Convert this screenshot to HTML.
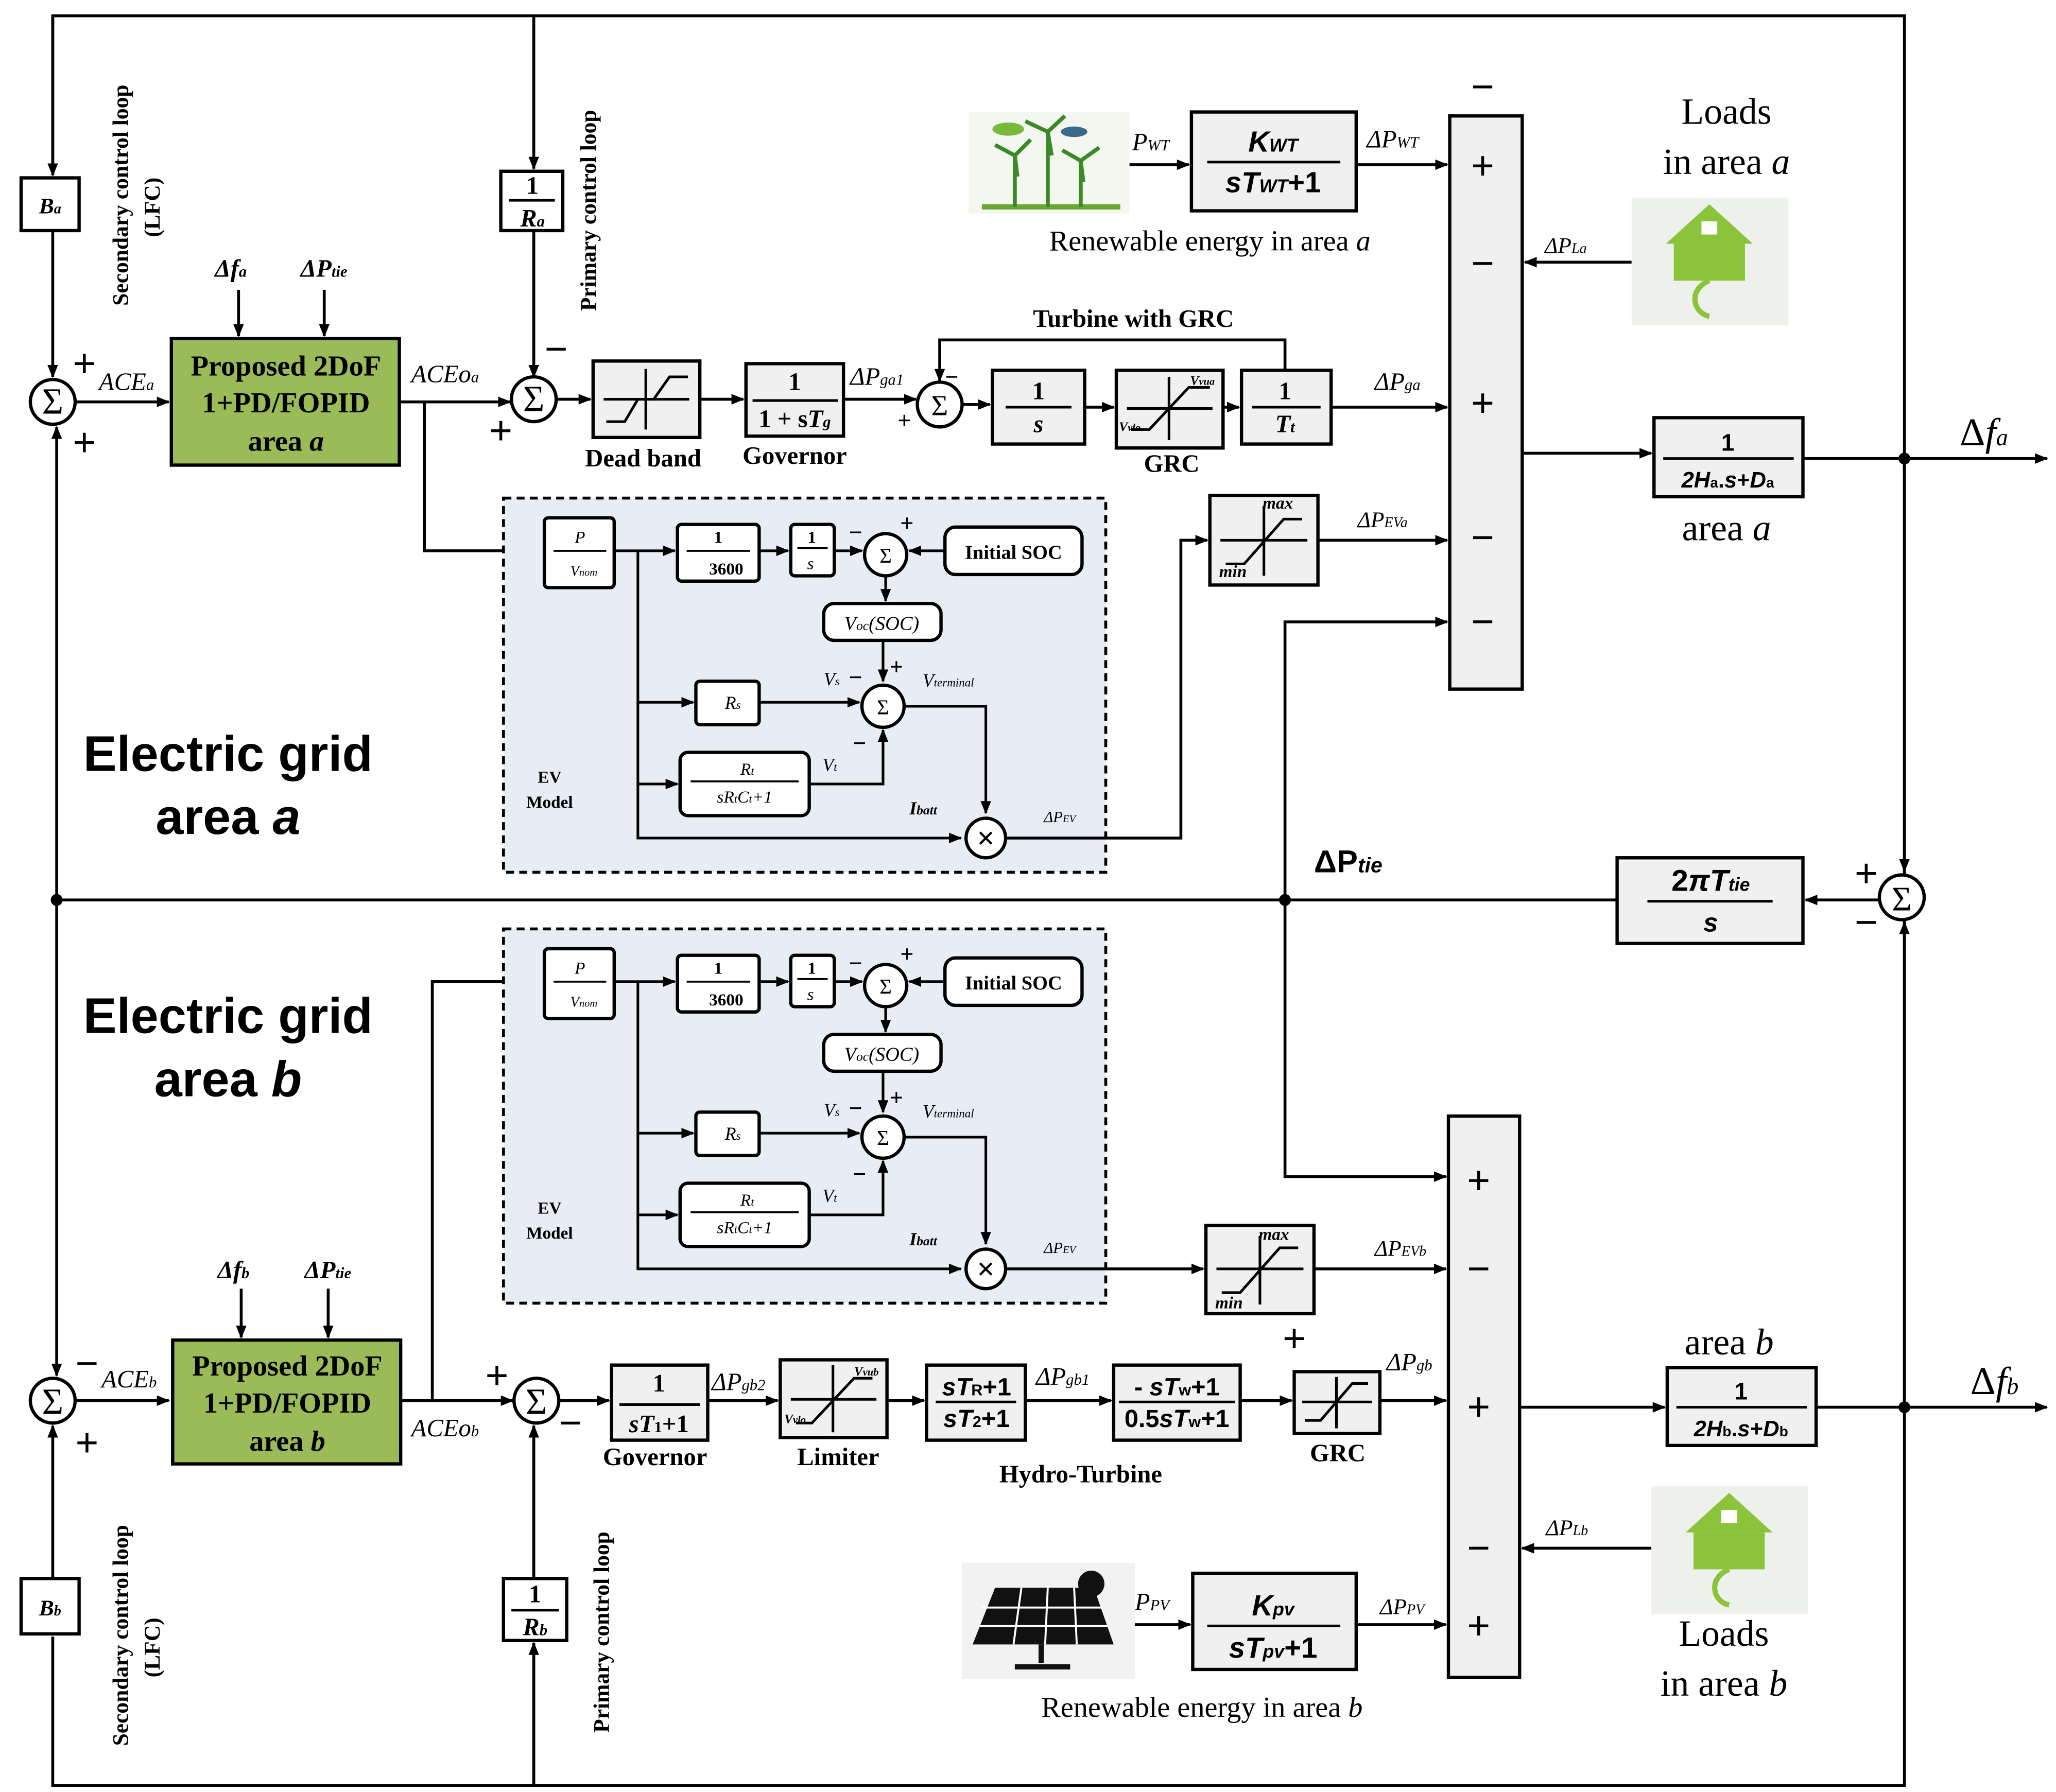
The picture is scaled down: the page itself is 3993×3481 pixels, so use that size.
<!DOCTYPE html>
<html><head><meta charset="utf-8"><style>
html,body{margin:0;padding:0;background:#fff;}
svg{display:block;}
text{font-family:"Liberation Serif",serif;}
.b{font-weight:bold;}
.i{font-style:italic;}
svg .s, svg .s text, svg .s tspan{font-family:"Liberation Sans",sans-serif;}
</style></head><body>
<svg width="3993" height="3481" viewBox="0 0 1560 1360" xmlns="http://www.w3.org/2000/svg">
<defs>
<marker id="ar" markerWidth="10" markerHeight="8" refX="9" refY="4" orient="auto" markerUnits="userSpaceOnUse"><path d="M0,0 L10,4 L0,8 z" fill="#000"/></marker>
</defs>
<rect width="1560" height="1360" fill="#fff"/>
<g fill="none" stroke="#000" stroke-width="2.2">
<!-- outer loops -->
<path d="M40,133 V12 H1445 V1355 H40 V1242"/>
<path d="M40,12 V133" marker-end="url(#ar)"/>
<path d="M40,175 V286" marker-end="url(#ar)"/>
<path d="M405,12 V128" marker-end="url(#ar)"/>
<path d="M405,175 V286" marker-end="url(#ar)"/>
<path d="M43,683 V324" marker-end="url(#ar)"/>
<path d="M43,683 V1044" marker-end="url(#ar)"/>
<path d="M40,1198 V1082" marker-end="url(#ar)"/>
<path d="M405,1355 V1247" marker-end="url(#ar)"/>
<path d="M405,1198 V1082" marker-end="url(#ar)"/>
<!-- area a forward -->
<path d="M57,305 H128" marker-end="url(#ar)"/>
<path d="M181,220 V255" marker-end="url(#ar)"/>
<path d="M246,220 V255" marker-end="url(#ar)"/>
<path d="M303,305 H387" marker-end="url(#ar)"/>
<path d="M422,303 H448" marker-end="url(#ar)"/>
<path d="M531,303 H564" marker-end="url(#ar)"/>
<path d="M640,303 H695" marker-end="url(#ar)"/>
<path d="M730,307 H751" marker-end="url(#ar)"/>
<path d="M823,309 H845" marker-end="url(#ar)"/>
<path d="M928,309 H940" marker-end="url(#ar)"/>
<path d="M1010,309 H1098" marker-end="url(#ar)"/>
<path d="M975,281 V258 H713 V289" marker-end="url(#ar)"/>
<path d="M1155,344 H1253" marker-end="url(#ar)"/>
<path d="M1368,348 H1553" marker-end="url(#ar)"/>
<path d="M1445,348 V661" marker-end="url(#ar)"/>
<path d="M1445,1068 V700" marker-end="url(#ar)"/>
<path d="M1426,683 H1370" marker-end="url(#ar)"/>
<path d="M1227,683 H43"/>
<path d="M975,683 V472 H1098" marker-end="url(#ar)"/>
<path d="M975,683 V893 H1097" marker-end="url(#ar)"/>
<path d="M857,125 H902" marker-end="url(#ar)"/>
<path d="M1029,125 H1098" marker-end="url(#ar)"/>
<path d="M1238,199 H1157" marker-end="url(#ar)"/>
<path d="M1000,410 H1098" marker-end="url(#ar)"/>
<path d="M322,305 V418 H411" marker-end="url(#ar)"/>
<!-- area b forward -->
<path d="M57,1063 H128" marker-end="url(#ar)"/>
<path d="M183,978 V1015" marker-end="url(#ar)"/>
<path d="M249,978 V1015" marker-end="url(#ar)"/>
<path d="M304,1063 H389" marker-end="url(#ar)"/>
<path d="M328,1063 V745 H411" marker-end="url(#ar)"/>
<path d="M424,1063 H462" marker-end="url(#ar)"/>
<path d="M537,1063 H590" marker-end="url(#ar)"/>
<path d="M673,1063 H701" marker-end="url(#ar)"/>
<path d="M778,1063 H843" marker-end="url(#ar)"/>
<path d="M941,1063 H980" marker-end="url(#ar)"/>
<path d="M1047,1063 H1097" marker-end="url(#ar)"/>
<path d="M1153,1068 H1263" marker-end="url(#ar)"/>
<path d="M1378,1068 H1553" marker-end="url(#ar)"/>
<path d="M997,963 H1097" marker-end="url(#ar)"/>
<path d="M1253,1175 H1155" marker-end="url(#ar)"/>
<path d="M861,1233 H903" marker-end="url(#ar)"/>
<path d="M1029,1233 H1097" marker-end="url(#ar)"/>
</g>
<!-- dots -->
<g fill="#000"><circle cx="43" cy="683" r="4.5"/><circle cx="975" cy="683" r="4.5"/><circle cx="1445" cy="348" r="4.5"/><circle cx="1445" cy="1068" r="4.5"/></g>

<!-- EV blocks -->
<g id="ev">
<rect x="382" y="378" width="457" height="284" fill="#e8ecf4" stroke="#000" stroke-width="2.2" stroke-dasharray="6,4"/>
<g fill="none" stroke="#000" stroke-width="2">
<path d="M466,418 H512" marker-end="url(#ar)"/>
<path d="M576,418 H598" marker-end="url(#ar)"/>
<path d="M633,418 H654" marker-end="url(#ar)"/>
<path d="M717,418 H690" marker-end="url(#ar)"/>
<path d="M672,438 V456" marker-end="url(#ar)"/>
<path d="M670,486 V517" marker-end="url(#ar)"/>
<path d="M484,418 V636 H729" marker-end="url(#ar)"/>
<path d="M484,533 H526" marker-end="url(#ar)"/>
<path d="M484,595 H514" marker-end="url(#ar)"/>
<path d="M576,533 H652" marker-end="url(#ar)"/>
<path d="M614,595 H670 V554" marker-end="url(#ar)"/>
<path d="M687,536 H748 V617" marker-end="url(#ar)"/>
</g>
<g fill="#fff" stroke="#000" stroke-width="2.5">
<rect x="413" y="393" width="53" height="53" rx="3"/>
<rect x="514" y="398" width="62" height="43" rx="3"/>
<rect x="600" y="398" width="33" height="39" rx="3"/>
<rect x="717" y="400" width="104" height="36" rx="8"/>
<rect x="625" y="458" width="89" height="28" rx="8"/>
<rect x="528" y="517" width="48" height="33" rx="3"/>
<rect x="516" y="571" width="98" height="48" rx="6"/>
<circle cx="672" cy="421" r="16"/>
<circle cx="670" cy="536" r="16"/>
<circle cx="748" cy="636" r="15"/>
</g>
<g stroke="#000" stroke-width="1.5"><line x1="420" y1="418" x2="460" y2="418"/><line x1="521" y1="418" x2="569" y2="418"/><line x1="605" y1="416" x2="628" y2="416"/><line x1="524" y1="593" x2="606" y2="593"/></g>
<g font-size="13" text-anchor="middle">
<text x="440" y="412" class="i">P</text><text x="443" y="437" class="i" font-size="11">V<tspan font-size="8">nom</tspan></text>
<text x="545" y="412" class="b">1</text><text x="551" y="436" class="b">3600</text>
<text x="616" y="412" class="b">1</text><text x="615" y="432" class="i">s</text>
<text x="769" y="424" class="b" font-size="15">Initial SOC</text>
<text x="669" y="478" class="i" font-size="15">V<tspan font-size="10">oc</tspan>(SOC)</text>
<text x="556" y="538" class="i" font-size="14">R<tspan font-size="9">s</tspan></text>
<text x="567" y="588" class="i">R<tspan font-size="9">t</tspan></text><text x="565" y="609" class="i">sR<tspan font-size="9">t</tspan>C<tspan font-size="9">t</tspan>+1</text>
<text x="672" y="427" font-size="16">Σ</text><text x="670" y="542" font-size="16">Σ</text>
<text x="748" y="644" font-size="24" class="b">×</text>
<text x="417" y="594" class="b">EV</text><text x="417" y="613" class="b">Model</text>
</g>
<g font-size="14" class="i">
<text x="625" y="520">V<tspan font-size="9">s</tspan></text><text x="700" y="521">V<tspan font-size="9">terminal</tspan></text>
<text x="624" y="585">V<tspan font-size="9">t</tspan></text><text x="690" y="618" class="b">I<tspan font-size="10">batt</tspan></text>
<text x="792" y="624" font-size="12">ΔP<tspan font-size="8">EV</tspan></text>
</g>
<g font-size="18" class="b"><text x="644" y="410">−</text><text x="683" y="403">+</text><text x="644" y="520">−</text><text x="675" y="512">+</text><text x="647" y="570">−</text></g>
</g>
<use href="#ev" transform="translate(0,327)"/>
<g fill="none" stroke="#000" stroke-width="2.2">
<path d="M763,636 H896 V410 H916" marker-end="url(#ar)"/>
<path d="M763,963 H913" marker-end="url(#ar)"/>
</g>

<!-- blocks -->
<g stroke="#000" stroke-width="2.5">
<rect x="16" y="135" width="44" height="40" fill="#fff"/>
<rect x="380" y="130" width="47" height="45" fill="#fff"/>
<rect x="16" y="1198" width="44" height="42" fill="#fff"/>
<rect x="382" y="1198" width="48" height="47" fill="#fff"/>
<rect x="130" y="257" width="173" height="96" fill="#9bbb59"/>
<rect x="131" y="1017" width="173" height="94" fill="#9bbb59"/>
<g fill="#f0f0f0">
<rect x="450" y="274" width="81" height="58"/>
<rect x="566" y="276" width="74" height="55"/>
<rect x="753" y="281" width="70" height="56"/>
<rect x="847" y="281" width="81" height="59"/>
<rect x="942" y="281" width="68" height="56"/>
<rect x="904" y="85" width="125" height="75"/>
<rect x="1100" y="88" width="55" height="435"/>
<rect x="1255" y="317" width="113" height="60"/>
<rect x="918" y="376" width="82" height="68"/>
<rect x="1227" y="651" width="141" height="65"/>
<rect x="915" y="930" width="82" height="67"/>
<rect x="1099" y="847" width="54" height="426"/>
<rect x="464" y="1036" width="73" height="57"/>
<rect x="592" y="1032" width="81" height="59"/>
<rect x="703" y="1036" width="75" height="57"/>
<rect x="845" y="1036" width="96" height="57"/>
<rect x="982" y="1041" width="65" height="47"/>
<rect x="1265" y="1038" width="113" height="59"/>
<rect x="905" y="1194" width="124" height="73"/>
</g>
<g fill="#fff"><circle cx="40" cy="305" r="17"/><circle cx="405" cy="303" r="17"/><circle cx="713" cy="307" r="17"/><circle cx="1443" cy="681" r="17"/><circle cx="40" cy="1063" r="17"/><circle cx="407" cy="1063" r="17"/></g>
</g>
<!-- fraction lines -->
<g stroke="#000" stroke-width="2">
<line x1="386" y1="152" x2="421" y2="152"/><line x1="388" y1="1222" x2="424" y2="1222"/>
<line x1="571" y1="304" x2="636" y2="304"/><line x1="763" y1="309" x2="813" y2="309"/><line x1="950" y1="309" x2="1002" y2="309"/>
<line x1="916" y1="123" x2="1017" y2="123"/><line x1="1262" y1="348" x2="1361" y2="348"/><line x1="1250" y1="684" x2="1345" y2="684"/>
<line x1="470" y1="1066" x2="531" y2="1066"/><line x1="710" y1="1064" x2="771" y2="1064"/><line x1="849" y1="1064" x2="937" y2="1064"/>
<line x1="1272" y1="1068" x2="1371" y2="1068"/><line x1="916" y1="1234" x2="1017" y2="1234"/>
</g>
<!-- nonlinear icons -->
<g stroke="#000" stroke-width="2" fill="none">
<path d="M458,303 H523 M490,280 V326"/><path d="M460,320 L474,320 L484,303 L496,303 L508,286 L522,286"/>
<path d="M855,310 H920 M887,286 V334"/><path d="M858,326 L872,326 L902,294 L918,294"/>
<path d="M926,410 H992 M959,384 V437"/><path d="M930,428 L944,428 L974,394 L988,394"/>
<path d="M923,963 H989 M956,938 V990"/><path d="M927,981 L941,981 L971,947 L985,947"/>
<path d="M600,1062 H665 M632,1036 V1087"/><path d="M604,1080 L616,1080 L648,1046 L662,1046"/>
<path d="M988,1064 H1041 M1014,1045 V1084"/><path d="M990,1078 L1002,1078 L1026,1050 L1038,1050"/>
</g>

<!-- text -->
<g font-size="28" text-anchor="middle">
<text x="40" y="314">Σ</text><text x="405" y="312">Σ</text><text x="713" y="315" font-size="22">Σ</text><text x="1443" y="691" font-size="26">Σ</text><text x="40" y="1073">Σ</text><text x="407" y="1073">Σ</text>
</g>
<g class="b" font-size="22" text-anchor="middle">
<text x="217" y="285">Proposed 2DoF</text><text x="217" y="313">1+PD/FOPID</text><text x="217" y="342">area <tspan class="i">a</tspan></text>
<text x="218" y="1044">Proposed 2DoF</text><text x="218" y="1072">1+PD/FOPID</text><text x="218" y="1101">area <tspan class="i">b</tspan></text>
</g>
<g class="b" font-size="19" text-anchor="middle">
<text x="38" y="162" class="i" font-size="17">B<tspan font-size="11">a</tspan></text>
<text x="38" y="1226" class="i" font-size="17">B<tspan font-size="11">b</tspan></text>
<text x="404" y="147">1</text><text x="404" y="172" class="i">R<tspan font-size="12">a</tspan></text>
<text x="406" y="1216">1</text><text x="406" y="1241" class="i">R<tspan font-size="12">b</tspan></text>
<text x="603" y="296">1</text><text x="603" y="324">1 + s<tspan class="i">T</tspan><tspan font-size="12" class="i">g</tspan></text>
<text x="788" y="303">1</text><text x="788" y="328" class="i">s</text>
<text x="975" y="303">1</text><text x="975" y="328" class="i">T<tspan font-size="12">t</tspan></text>
<text x="500" y="1056">1</text><text x="500" y="1087"><tspan class="i">sT</tspan><tspan font-size="12">1</tspan>+1</text>
<text x="741" y="1059" class="s"><tspan class="i">sT</tspan><tspan font-size="12">R</tspan>+1</text><text x="741" y="1083" class="s"><tspan class="i">sT</tspan><tspan font-size="12">2</tspan>+1</text>
<text x="893" y="1059" class="s">- <tspan class="i">sT</tspan><tspan font-size="12">w</tspan>+1</text><text x="893" y="1083" class="s">0.5<tspan class="i">sT</tspan><tspan font-size="12">w</tspan>+1</text>
<text x="966" y="115" class="s i" font-size="22">K<tspan font-size="14">WT</tspan></text><text x="966" y="146" class="s i" font-size="22">sT<tspan font-size="14">WT</tspan><tspan font-style="normal">+1</tspan></text>
<text x="966" y="1226" class="s i" font-size="22">K<tspan font-size="14">pv</tspan></text><text x="966" y="1258" class="s i" font-size="22">sT<tspan font-size="14">pv</tspan><tspan font-style="normal">+1</tspan></text>
<text x="1311" y="342" class="s" font-size="18">1</text><text x="1311" y="370" class="s" font-size="17"><tspan class="i">2H</tspan><tspan font-size="11">a</tspan>.<tspan class="i">s</tspan>+<tspan class="i">D</tspan><tspan font-size="11">a</tspan></text>
<text x="1321" y="1062" class="s" font-size="18">1</text><text x="1321" y="1090" class="s" font-size="17"><tspan class="i">2H</tspan><tspan font-size="11">b</tspan>.<tspan class="i">s</tspan>+<tspan class="i">D</tspan><tspan font-size="11">b</tspan></text>
<text x="1298" y="676" class="s" font-size="23">2<tspan class="i">πT</tspan><tspan font-size="14" class="i">tie</tspan></text><text x="1298" y="707" class="s i" font-size="20">s</text>
<text x="488" y="354">Dead band</text><text x="603" y="352">Governor</text><text x="889" y="358">GRC</text>
<text x="860" y="248">Turbine with GRC</text>
<text x="497" y="1112">Governor</text><text x="636" y="1112">Limiter</text><text x="820" y="1125">Hydro-Turbine</text><text x="1015" y="1109">GRC</text>
</g>
<g class="i b" font-size="13">
<text x="958" y="386">max</text><text x="925" y="438">min</text>
<text x="955" y="941">max</text><text x="922" y="993">min</text>
<text x="903" y="292" font-size="10">V<tspan font-size="8">vua</tspan></text><text x="849" y="327" font-size="10">V<tspan font-size="8">vlo</tspan></text>
<text x="648" y="1044" font-size="10">V<tspan font-size="8">vub</tspan></text><text x="595" y="1080" font-size="10">V<tspan font-size="8">vlo</tspan></text>
</g>
<g class="i" font-size="19">
<text x="75" y="296">ACE<tspan font-size="12">a</tspan></text>
<text x="312" y="290">ACEo<tspan font-size="12">a</tspan></text>
<text x="77" y="1053">ACE<tspan font-size="12">b</tspan></text>
<text x="312" y="1090">ACEo<tspan font-size="12">b</tspan></text>
<text x="163" y="210" class="b">Δf<tspan font-size="12">a</tspan></text><text x="228" y="210" class="b">ΔP<tspan font-size="12">tie</tspan></text>
<text x="165" y="970" class="b">Δf<tspan font-size="12">b</tspan></text><text x="231" y="970" class="b">ΔP<tspan font-size="12">tie</tspan></text>
<text x="645" y="292">ΔP<tspan font-size="12">ga1</tspan></text>
<text x="1043" y="296">ΔP<tspan font-size="12">ga</tspan></text>
<text x="859" y="114">P<tspan font-size="12">WT</tspan></text>
<text x="1037" y="112">ΔP<tspan font-size="12">WT</tspan></text>
<text x="1172" y="192" font-size="17">ΔP<tspan font-size="11">La</tspan></text>
<text x="1030" y="400" font-size="17">ΔP<tspan font-size="11">EVa</tspan></text>
<text x="540" y="1055">ΔP<tspan font-size="12">gb2</tspan></text>
<text x="786" y="1051">ΔP<tspan font-size="12">gb1</tspan></text>
<text x="1052" y="1040">ΔP<tspan font-size="12">gb</tspan></text>
<text x="1043" y="953" font-size="17">ΔP<tspan font-size="11">EVb</tspan></text>
<text x="1173" y="1165" font-size="17">ΔP<tspan font-size="11">Lb</tspan></text>
<text x="861" y="1222">P<tspan font-size="12">PV</tspan></text>
<text x="1047" y="1225" font-size="17">ΔP<tspan font-size="11">PV</tspan></text>
<text x="1487" y="338" font-size="30" font-style="normal">Δ<tspan class="i">f</tspan><tspan font-size="18" class="i">a</tspan></text>
<text x="1495" y="1058" font-size="30" font-style="normal">Δ<tspan class="i">f</tspan><tspan font-size="18" class="i">b</tspan></text>
</g>
<g class="s b"><text x="997" y="662" font-size="24">ΔP<tspan font-size="16" font-style="italic">tie</tspan></text></g>
<g font-size="28" text-anchor="middle">
<text x="1310" y="94">Loads</text><text x="1310" y="132">in area <tspan class="i">a</tspan></text>
<text x="1312" y="1028">area <tspan class="i">b</tspan></text>
<text x="1310" y="410">area <tspan class="i">a</tspan></text>
<text x="1308" y="1249">Loads</text><text x="1308" y="1287">in area <tspan class="i">b</tspan></text>
<text x="918" y="190" font-size="22">Renewable energy in area <tspan class="i">a</tspan></text>
<text x="912" y="1303" font-size="22">Renewable energy in area <tspan class="i">b</tspan></text>
</g>
<g class="s b" font-size="38" text-anchor="middle">
<text x="173" y="585">Electric grid</text><text x="173" y="633">area <tspan class="i">a</tspan></text>
<text x="173" y="784">Electric grid</text><text x="173" y="832">area <tspan class="i">b</tspan></text>
</g>
<g class="b" font-size="17">
<text transform="translate(97,232) rotate(-90)">Secondary control loop</text>
<text transform="translate(121,180) rotate(-90)">(LFC)</text>
<text transform="translate(452,236) rotate(-90)">Primary control loop</text>
<text transform="translate(97,1325) rotate(-90)">Secondary control loop</text>
<text transform="translate(121,1273) rotate(-90)">(LFC)</text>
<text transform="translate(462,1315) rotate(-90)">Primary control loop</text>
</g>
<!-- signs -->
<g font-size="30" text-anchor="middle" class="s">
<text x="64" y="286">+</text><text x="64" y="346">+</text>
<text x="422" y="275">−</text><text x="380" y="337">+</text>
<text x="66" y="1045">−</text><text x="66" y="1105">+</text>
<text x="377" y="1054">+</text><text x="433" y="1090">−</text>
<text x="1416" y="673">+</text><text x="1416" y="710">−</text>
<text x="1125" y="76">−</text><text x="1125" y="136">+</text><text x="1125" y="210">−</text><text x="1125" y="316">+</text><text x="1125" y="418">−</text><text x="1125" y="482">−</text>
<text x="1122" y="906">+</text><text x="1122" y="973">−</text><text x="1122" y="1078">+</text><text x="1122" y="1185">−</text><text x="1122" y="1244">+</text>
<text x="982" y="1026">+</text>
</g>
<g font-size="18" class="b"><text x="717" y="292">−</text><text x="681" y="325">+</text></g>

<!-- wind -->
<g>
<rect x="735" y="85" width="122" height="77" fill="#f4f6f0"/>
<path d="M745,157 H850" stroke="#6aa834" stroke-width="4"/>
<g stroke="#3a8a2a" stroke-width="3" fill="none">
<path d="M770,157 V118 M770,118 L755,110 M770,118 L782,106 M770,118 L772,134"/>
<path d="M795,157 V100 M795,100 L778,92 M795,100 L808,88 M795,100 L798,118"/>
<path d="M820,157 V122 M820,122 L806,114 M820,122 L834,112 M820,122 L822,138"/>
</g>
<ellipse cx="765" cy="98" rx="12" ry="5" fill="#7aba3a"/><ellipse cx="815" cy="100" rx="10" ry="4" fill="#3a6a8a"/>
</g>
<!-- solar -->
<g>
<rect x="730" y="1186" width="131" height="88" fill="#f2f2f2"/>
<path d="M755,1205 H830 L845,1248 H738 Z" fill="#111"/>
<g stroke="#fff" stroke-width="1.5"><line x1="745" y1="1220" x2="836" y2="1220"/><line x1="742" y1="1234" x2="841" y2="1234"/><line x1="775" y1="1205" x2="769" y2="1248"/><line x1="795" y1="1205" x2="793" y2="1248"/><line x1="815" y1="1205" x2="817" y2="1248"/></g>
<path d="M790,1248 V1262 M770,1265 H812" stroke="#111" stroke-width="4"/>
<circle cx="828" cy="1202" r="10" fill="#111"/>
</g>
<!-- houses -->
<g id="house">
<rect x="1238" y="150" width="119" height="97" fill="#eef0ec"/>
<path d="M1297,155 L1330,185 H1264 Z" fill="#8bc43a"/>
<rect x="1270" y="185" width="54" height="28" fill="#8bc43a"/>
<path d="M1297,213 C1280,220 1285,238 1297,240" stroke="#8bc43a" stroke-width="4" fill="none"/>
<rect x="1291" y="168" width="12" height="10" fill="#fff"/>
</g>
<use href="#house" transform="translate(15,978)"/>
</svg>
</body></html>
